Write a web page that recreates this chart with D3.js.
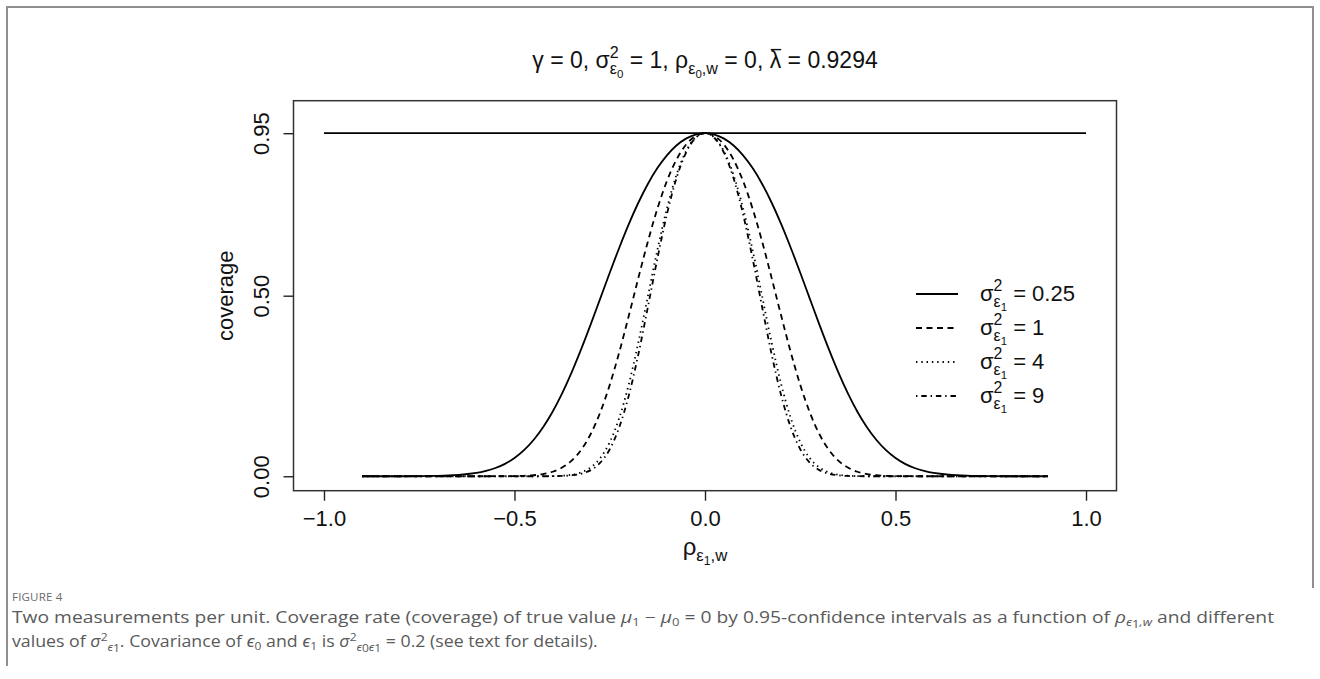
<!DOCTYPE html>
<html><head><meta charset="utf-8">
<script src="https://cdn.jsdelivr.net/npm/d3@7"></script>
<style>
body{margin:0;background:#fff}
svg{display:block}
text{white-space:pre}
</style>
</head><body>
<svg id="c" width="1320" height="679"></svg>
<script>
// ---------------- data ----------------
const rho = [-0.9,-0.8,-0.7,-0.6,-0.575,-0.55,-0.525,-0.5,-0.475,-0.45,-0.425,-0.4,-0.375,-0.35,-0.325,-0.3,-0.275,-0.25,-0.225,-0.2,-0.175,-0.15,-0.125,-0.1,-0.075,-0.05,-0.025,0,0.025,0.05,0.075,0.1,0.125,0.15,0.175,0.2,0.225,0.25,0.275,0.3,0.325,0.35,0.375,0.4,0.425,0.45,0.475,0.5,0.525,0.55,0.575,0.6,0.7,0.8,0.9];

const covS025 = [0,0,0.001,0.0091,0.0146,0.0228,0.0344,0.0505,0.0721,0.1003,0.1357,0.1788,0.2296,0.2877,0.3520,0.4207,0.4920,0.5635,0.6329,0.6982,0.7574,0.8094,0.8533,0.8888,0.916,0.935,0.9463,
  0.95,
  0.9463,0.935,0.916,0.8888,0.8533,0.8094,0.7574,0.6982,0.6329,0.5635,0.4920,0.4207,0.3520,0.2877,0.2296,0.1788,0.1357,0.1003,0.0721,0.0505,0.0344,0.0228,0.0146,0.0091,0.001,0,0];

const covS1 = [0,0,0,0,0,0.0001,0.0002,0.0005,0.0012,0.0028,0.0062,0.0125,0.0240,0.0432,0.0732,0.1170,0.1768,0.2530,0.3437,0.4443,0.5487,0.6497,0.7409,0.8173,0.8765,0.918,0.9421,
  0.95,
  0.9421,0.918,0.8765,0.8173,0.7409,0.6497,0.5487,0.4443,0.3437,0.2530,0.1768,0.1170,0.0732,0.0432,0.0240,0.0125,0.0062,0.0028,0.0012,0.0005,0.0002,0.0001,0,0,0,0,0];

const covS4 = [0,0,0,0,0,0,0,0,0,0,0.0001,0.0005,0.0016,0.0043,0.0108,0.0244,0.0502,0.0943,0.1617,0.2546,0.3698,0.498,0.6264,0.7417,0.8342,0.8996,0.9376,
  0.95,
  0.9376,0.8996,0.8342,0.7417,0.6264,0.498,0.3698,0.2546,0.1617,0.0943,0.0502,0.0244,0.0108,0.0043,0.0016,0.0005,0.0001,0,0,0,0,0,0,0,0,0,0];

const covS9 = [0,0,0,0,0,0,0,0,0,0,0,0.0002,0.0008,0.0026,0.0069,0.017,0.0375,0.0749,0.1357,0.2236,0.3372,0.4681,0.6026,0.7253,0.825,0.8956,0.9367,
  0.95,
  0.9367,0.8956,0.825,0.7253,0.6026,0.4681,0.3372,0.2236,0.1357,0.0749,0.0375,0.017,0.0069,0.0026,0.0008,0.0002,0,0,0,0,0,0,0,0,0,0,0];

const nominalX = [-1, 1];
const nominalY = [0.95, 0.95];

const seriesNames = ["0.25", "1", "4", "9"];
const seriesValues = [covS025, covS1, covS4, covS9];
const xTicks = [-1, -0.5, 0, 0.5, 1];
const xTickLabels = ["\u22121.0", "\u22120.5", "0.0", "0.5", "1.0"];
const yTicks = [0, 0.5, 0.95];
const yTickLabels = ["0.00", "0.50", "0.95"];

// ---------------- layout ----------------
const FONT = "'Liberation Sans', Arial, Helvetica, sans-serif";
const svg = d3.select("#c").style("font-family", FONT);
const box = {left: 293.5, right: 1116.5, top: 100.7, bottom: 490.7};
const x = d3.scaleLinear().domain([-1.08, 1.08]).range([box.left, box.right]);
const y = d3.scaleLinear().domain([-0.04, 1.04]).range([box.bottom, box.top]);
const dashes = [null, "6,4.5", "1.4,3.9", "1.4,3.9,5.4,3.9"];
const LW = 1.8;

// outer frame
const frame = svg.append("g").attr("stroke", "#8f8f8f").attr("stroke-width", 2).attr("fill", "none");
frame.append("path").attr("d", "M7,666 V7 H1313 V588");

// plot box
svg.append("rect").attr("x", box.left).attr("y", box.top)
  .attr("width", box.right - box.left).attr("height", box.bottom - box.top)
  .attr("fill", "none").attr("stroke", "#333").attr("stroke-width", 1.5);

// axes
const xAxis = d3.axisBottom(x).tickValues(xTicks).tickFormat((d, i) => xTickLabels[i]).tickSize(10).tickPadding(6);
const gx = svg.append("g").attr("transform", `translate(0,${box.bottom})`).call(xAxis);
gx.select(".domain").remove();
gx.selectAll(".tick line").attr("stroke", "#222").attr("stroke-width", 1.4);
gx.selectAll(".tick text").attr("font-size", 22).attr("font-family", FONT).attr("fill", "#111")
  .attr("y", 0).attr("dy", 0).attr("transform", "translate(0,35)");

const yAxis = d3.axisLeft(y).tickValues(yTicks).tickFormat((d, i) => yTickLabels[i]).tickSize(10);
const gy = svg.append("g").attr("transform", `translate(${box.left},0)`).call(yAxis);
gy.select(".domain").remove();
gy.selectAll(".tick line").attr("stroke", "#222").attr("stroke-width", 1.4);
gy.selectAll(".tick text").attr("font-size", 22).attr("font-family", FONT).attr("fill", "#111")
  .attr("x", 0).attr("dy", 0).attr("text-anchor", "middle")
  .attr("transform", "translate(-25,0) rotate(-90)");

// nominal 0.95 line
const line = d3.line().x(d => x(d[0])).y(d => y(d[1]));
svg.append("path").datum(nominalX.map((v, i) => [v, nominalY[i]]))
  .attr("d", line).attr("fill", "none").attr("stroke", "#000").attr("stroke-width", LW);

// curves
const curveLine = d3.line().x(d => x(d[0])).y(d => y(d[1])).curve(d3.curveMonotoneX);
seriesValues.forEach((vals, i) => {
  const pts = rho.map((r, j) => [r, vals[j]]);
  const p = svg.append("path").datum(pts).attr("d", curveLine)
    .attr("fill", "none").attr("stroke", "#000").attr("stroke-width", LW);
  if (dashes[i]) p.attr("stroke-dasharray", dashes[i]);
});

// ---------------- math text helper (one text element, positioned tspans) ----------------
function mathText(parent, px, py, parts, fs, anchor) {
  const g = parent.append("g");
  const t = g.append("text").attr("fill", "#111").attr("font-size", fs);
  let cur = 0, markX = 0, maxX = 0;
  parts.forEach(p => {
    let start = p.back ? markX : (p.after ? maxX : cur);
    if (p.mark) markX = start;
    start += (p.gap || 0) * fs;
    const size = fs * (p.s || 1);
    const s = t.append("tspan").attr("x", start).attr("y", (p.dy || 0) * fs)
      .attr("font-size", size).text(p.t);
    const w = s.node().getComputedTextLength();
    if (p.bar) {
      g.append("line").attr("x1", start + 1).attr("x2", start + w)
        .attr("y1", -0.8 * fs).attr("y2", -0.8 * fs)
        .attr("stroke", "#111").attr("stroke-width", 1.4);
    }
    cur = start + w;
    maxX = Math.max(maxX, cur);
  });
  const shift = anchor === "middle" ? -maxX / 2 : 0;
  g.attr("transform", `translate(${px + shift},${py})`);
  return g;
}

// title
mathText(svg, (box.left + box.right) / 2, 68, [
  {t: "\u03B3 = 0, \u03C3"},
  {t: "2", s: 0.7, dy: -0.44, mark: true},
  {t: "\u03B5", s: 0.7, dy: 0.28, back: true},
  {t: "0", s: 0.5, dy: 0.44},
  {t: " = 1, \u03C1", after: true},
  {t: "\u03B5", s: 0.7, dy: 0.26},
  {t: "0", s: 0.5, dy: 0.42},
  {t: ",w", s: 0.7, dy: 0.26},
  {t: " = 0, "},
  {t: "\u03BB", bar: true},
  {t: " = 0.9294"}
], 23, "middle");

// x label
mathText(svg, (box.left + box.right) / 2, 555, [
  {t: "\u03C1"},
  {t: "\u03B5", s: 0.7, dy: 0.26},
  {t: "1", s: 0.5, dy: 0.42},
  {t: ",w", s: 0.7, dy: 0.26}
], 24, "middle");

// y label
svg.append("text").attr("transform", `translate(233,${(box.top + box.bottom) / 2}) rotate(-90)`)
  .attr("text-anchor", "middle").attr("font-size", 22).attr("fill", "#111").text("coverage");

// legend
const legendRows = [294, 328, 362, 396];
seriesNames.forEach((name, i) => {
  const ly = legendRows[i];
  const l = svg.append("line").attr("x1", 916).attr("x2", 958).attr("y1", ly).attr("y2", ly)
    .attr("stroke", "#000").attr("stroke-width", LW);
  if (dashes[i]) l.attr("stroke-dasharray", dashes[i]);
  mathText(svg, 980, ly + 6.5, [
    {t: "\u03C3"},
    {t: "2", s: 0.72, dy: -0.44, mark: true},
    {t: "\u03B5", s: 0.72, dy: 0.28, back: true},
    {t: "1", s: 0.52, dy: 0.46},
    {t: " = " + name, after: true}
  ], 22, "start");
});

// ---------------- caption ----------------
const CAP = "'Open Sans', 'Noto Sans', sans-serif";
svg.append("text").attr("x", 12).attr("y", 601).attr("font-family", CAP)
  .attr("font-size", 11.5).attr("fill", "#6b6b6b").attr("letter-spacing", 0.2).text("FIGURE 4");

function captionLine(py, parts, targetW) {
  const t = svg.append("text").attr("font-family", CAP).attr("font-size", 15.5).attr("fill", "#5a5a5a");
  parts.forEach(p => {
    const s = t.append("tspan").text(p.t);
    if (p.i) s.attr("font-style", "italic");
    if (p.sub) s.attr("font-size", 10.5).attr("baseline-shift", p.sub);
  });
  const w = t.node().getComputedTextLength();
  t.attr("transform", `translate(12,${py}) scale(${targetW / w},1)`);
}
captionLine(623, [
  {t: "Two measurements per unit. Coverage rate (coverage) of true value "},
  {t: "\u03BC", i: 1}, {t: "1", sub: "-3"}, {t: " \u2212 "}, {t: "\u03BC", i: 1}, {t: "0", sub: "-3"},
  {t: " = 0 by 0.95-confidence intervals as a function of "},
  {t: "\u03C1", i: 1}, {t: "\u03F5", i: 1, sub: "-3"}, {t: "1", sub: "-5"}, {t: ",w", i: 1, sub: "-3"},
  {t: " and different"}
], 1263);
captionLine(647, [
  {t: "values of "},
  {t: "\u03C3", i: 1}, {t: "2", sub: "6"}, {t: "\u03F5", i: 1, sub: "-4"}, {t: "1", sub: "-5"},
  {t: ". Covariance of "},
  {t: "\u03F5", i: 1}, {t: "0", sub: "-3"}, {t: " and "}, {t: "\u03F5", i: 1}, {t: "1", sub: "-3"},
  {t: " is "},
  {t: "\u03C3", i: 1}, {t: "2", sub: "6"}, {t: "\u03F5", i: 1, sub: "-4"}, {t: "0", sub: "-5"}, {t: "\u03F5", i: 1, sub: "-4"}, {t: "1", sub: "-5"},
  {t: " = 0.2 (see text for details)."}
], 586);
</script>
</body></html>
